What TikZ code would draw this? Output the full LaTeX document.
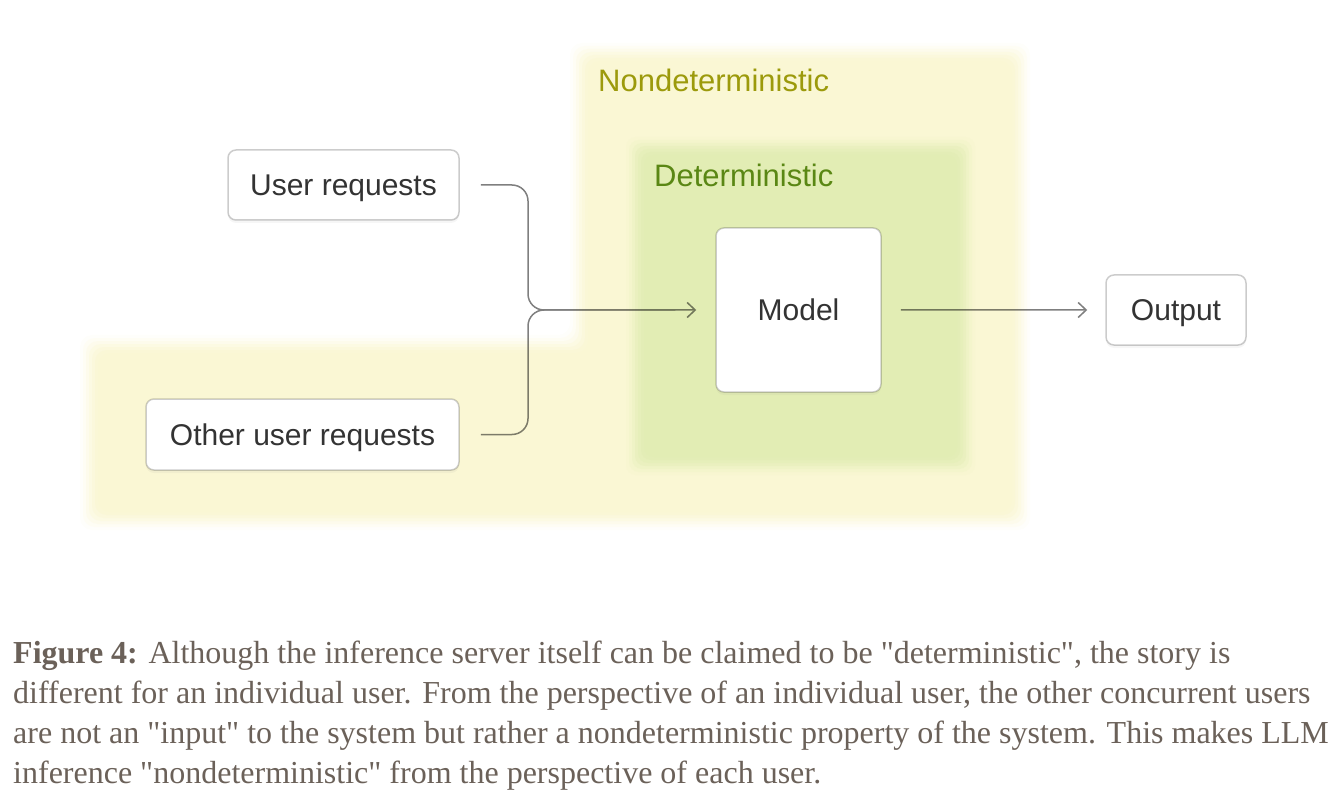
\documentclass[tikz,border=0pt]{standalone}
\usepackage{fontspec}
\setmainfont{Liberation Serif}[Ligatures=TeXOff]
\newfontfamily\boxfont{Liberation Sans}
\usetikzlibrary{arrows.meta,shadows}
\definecolor{ndetfill}{HTML}{FAF7D4}
\definecolor{detfill}{HTML}{E2EDB4}
\definecolor{ndettext}{HTML}{9C9A0C}
\definecolor{dettext}{HTML}{5A8714}
\definecolor{captext}{HTML}{6B6159}
\definecolor{boxtext}{HTML}{333333}

\begin{document}
\begin{tikzpicture}[x=1pt,y=-1pt,
  box/.style={draw=black,draw opacity=0.2,line width=1.5pt,fill=white,rounded corners=8pt,
    text=boxtext,font=\boxfont\fontsize{30}{36}\selectfont,inner sep=0pt,
    text height=22pt,text depth=0pt,
    drop shadow={opacity=0.07,shadow xshift=0pt,shadow yshift=-3pt}},
  zone/.style={font=\boxfont\fontsize{31}{36}\selectfont,anchor=base west,inner sep=0pt},
  wire/.style={line width=1.5pt},
  captionline/.style={anchor=base west,inner sep=0pt,text=captext,font=\fontsize{32}{40}\selectfont}]
\useasboundingbox (0,0) rectangle (1336,802);

%nondeterministic zone
\foreach \e/\p in {10/10,7/25,4/45,1/65,-2/82,-5/95,-8/100}
  \fill[ndetfill!\p!white,rounded corners=12pt] ({580-(\e)},{53-(\e)}) -- ({1020+(\e)},{53-(\e)})
    -- ({1020+(\e)},{520+(\e)}) -- ({90-(\e)},{520+(\e)}) -- ({90-(\e)},{345-(\e)})
    -- ({580-(\e)},{345-(\e)}) -- cycle;

%deterministic zone
\foreach \e/\p in {10/10,7/25,4/45,1/65,-2/82,-5/95,-8/100}
  \fill[detfill!\p!ndetfill,rounded corners=10pt] ({636-(\e)},{147-(\e)}) rectangle ({965+(\e)},{465+(\e)});

\node[zone,text=ndettext] (ndetlabel) at (598,92) {Nondeterministic};
\node[zone,text=dettext] (detlabel) at (654,187) {Deterministic};

%boxes
\node[box,minimum width=231pt,minimum height=70pt] (ureq) at (343.5,185) {User requests};
\node[box,minimum width=313pt,minimum height=71pt] (oreq) at (302.5,434.5) {Other user requests};
\node[box,minimum width=165pt,minimum height=164pt] (model) at (798.5,310) {Model};
\node[box,minimum width=140pt,minimum height=70pt] (out) at (1176,310) {Output};

%connectors
\coordinate (join) at (528,310);
\begin{scope}[transparency group,opacity=0.5]
\draw[wire,rounded corners=16pt,shorten <=21pt,shorten >=19pt,-{Straight Barb[length=8pt,width=15pt]}]
  (ureq.east) -| (join) -- (model.west);
\draw[wire,rounded corners=16pt,shorten <=21pt,shorten >=40pt]
  (oreq.east) -| (join) -- (model.west);
\draw[wire,shorten <=19pt,shorten >=18pt,-{Straight Barb[length=8pt,width=15pt]}] (model) -- (out);
\end{scope}

%caption
\node[captionline] (cap1) at (13,663) {\textbf{Figure 4:} Although the inference server itself can be claimed to be "deterministic", the story is};
\node[captionline] (cap2) at (13,703) {different for an individual user. From the perspective of an individual user, the other concurrent users};
\node[captionline] (cap3) at (13,743) {are not an "input" to the system but rather a nondeterministic property of the system. This makes LLM};
\node[captionline] (cap4) at (13,783) {inference "nondeterministic" from the perspective of each user.};
\end{tikzpicture}
\end{document}
